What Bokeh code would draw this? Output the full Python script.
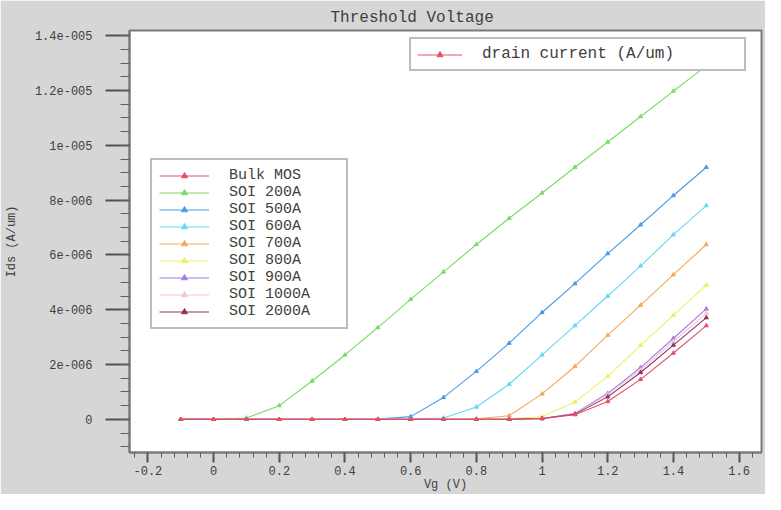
from bokeh.plotting import figure
from bokeh.models import (FixedTicker, CustomJSTickFormatter, Legend, LegendItem, Range1d)
from bokeh.embed import file_html
from bokeh.resources import INLINE

# ---- data ----
vg = [-0.1, 0.0, 0.1, 0.2, 0.3, 0.4, 0.5, 0.6, 0.7, 0.8, 0.9, 1.0, 1.1, 1.2, 1.3, 1.4, 1.5]

bulk_mos = [0, 0, 0, 0, 0, 0, 0, 0, 0, 0, 0.004e-6, 0.025e-6, 0.17e-6, 0.65e-6, 1.46e-6, 2.42e-6, 3.42e-6]
soi_200a = [0, 0, 0.05e-6, 0.5e-6, 1.4e-6, 2.35e-6, 3.35e-6, 4.38e-6, 5.38e-6, 6.38e-6, 7.34e-6, 8.26e-6, 9.2e-6, 10.12e-6, 11.05e-6, 11.98e-6, 12.9e-6]
soi_500a = [0, 0, 0, 0, 0, 0, 0.01e-6, 0.1e-6, 0.8e-6, 1.75e-6, 2.78e-6, 3.9e-6, 4.95e-6, 6.05e-6, 7.1e-6, 8.17e-6, 9.2e-6]
soi_600a = [0, 0, 0, 0, 0, 0, 0, 0.01e-6, 0.05e-6, 0.45e-6, 1.28e-6, 2.35e-6, 3.42e-6, 4.5e-6, 5.6e-6, 6.74e-6, 7.8e-6]
soi_700a = [0, 0, 0, 0, 0, 0, 0, 0, 0, 0.02e-6, 0.13e-6, 0.93e-6, 1.93e-6, 3.07e-6, 4.17e-6, 5.28e-6, 6.38e-6]
soi_800a = [0, 0, 0, 0, 0, 0, 0, 0, 0, 0, 0.02e-6, 0.1e-6, 0.63e-6, 1.57e-6, 2.7e-6, 3.8e-6, 4.9e-6]
soi_900a = [0, 0, 0, 0, 0, 0, 0, 0, 0, 0, 0.005e-6, 0.03e-6, 0.21e-6, 0.95e-6, 1.89e-6, 2.96e-6, 4.03e-6]
soi_1000a = [0, 0, 0, 0, 0, 0, 0, 0, 0, 0, 0.005e-6, 0.03e-6, 0.2e-6, 0.9e-6, 1.8e-6, 2.85e-6, 3.87e-6]
soi_2000a = [0, 0, 0, 0, 0, 0, 0, 0, 0, 0, 0.005e-6, 0.03e-6, 0.19e-6, 0.82e-6, 1.71e-6, 2.71e-6, 3.71e-6]

series_names = ["Bulk MOS", "SOI 200A", "SOI 500A", "SOI 600A", "SOI 700A",
                "SOI 800A", "SOI 900A", "SOI 1000A", "SOI 2000A"]
series_values = [bulk_mos, soi_200a, soi_500a, soi_600a, soi_700a,
                 soi_800a, soi_900a, soi_1000a, soi_2000a]
series_colors = ["#e4506a", "#78dc64", "#4c9ae4", "#64d8f2", "#f2aa58",
                 "#eef064", "#a67ce4", "#f2c8d2", "#8e3462"]

top_legend_label = "drain current (A/um)"
title_text = "Threshold Voltage"
x_label = "Vg (V)"
y_label = "Ids (A/um)"

x_ticks = [-0.2, 0.0, 0.2, 0.4, 0.6, 0.8, 1.0, 1.2, 1.4, 1.6]
x_tick_labels = ["-0.2", "0", "0.2", "0.4", "0.6", "0.8", "1", "1.2", "1.4", "1.6"]
y_ticks = [0.0, 2e-6, 4e-6, 6e-6, 8e-6, 1e-5, 1.2e-5, 1.4e-5]
y_tick_labels = ["0", "2e-006", "4e-006", "6e-006", "8e-006", "1e-005", "1.2e-005", "1.4e-005"]

# ---- figure ----
MONO = "Liberation Mono"
TXT = "#404040"

p = figure(width=765, height=494, output_backend="svg", toolbar_location=None,
           x_range=Range1d(-0.256, 1.668), y_range=Range1d(-1.21e-6, 1.419e-5),
           min_border_left=129, min_border_right=4, min_border_top=30, min_border_bottom=42)
p.border_fill_color = "#d6d6d6"
p.background_fill_color = "white"
p.outline_line_color = "#7a7a7a"
p.outline_line_width = 2
p.grid.visible = False

p.title.text = title_text
p.title.align = "left"
p.title.offset = 201
p.title.text_font = MONO
p.title.text_font_size = "16px"
p.title.text_font_style = "normal"
p.title.text_color = TXT
p.title.standoff = 8

fmt_code = """
let best = 0, bd = Infinity;
for (let i = 0; i < tv.length; i++) { const d = Math.abs(tv[i] - tick); if (d < bd) { bd = d; best = i; } }
return tl[best];
"""
x_minor = [round(-0.24 + 0.04 * i, 4) for i in range(48)]
y_minor = [round(-1e-6 + 5e-7 * i, 12) for i in range(31)]

p.xaxis.ticker = FixedTicker(ticks=x_ticks, minor_ticks=x_minor)
p.xaxis.formatter = CustomJSTickFormatter(args=dict(tv=x_ticks, tl=x_tick_labels), code=fmt_code)
p.yaxis.ticker = FixedTicker(ticks=y_ticks, minor_ticks=y_minor)
p.yaxis.formatter = CustomJSTickFormatter(args=dict(tv=y_ticks, tl=y_tick_labels), code=fmt_code)

for ax in (p.xaxis, p.yaxis):
    ax.axis_line_color = "#7a7a7a"
    ax.axis_line_width = 2
    ax.major_tick_line_color = "#505050"
    ax.major_tick_line_width = 2
    ax.minor_tick_line_color = "#606060"
    ax.minor_tick_line_width = 1
    ax.major_tick_in = 0
    ax.minor_tick_in = 0
    ax.major_label_text_font = MONO
    ax.major_label_text_font_size = "12px"
    ax.major_label_text_color = TXT
    ax.axis_label_text_font = MONO
    ax.axis_label_text_font_size = "12px"
    ax.axis_label_text_font_style = "normal"
    ax.axis_label_text_color = TXT

p.xaxis.axis_label = x_label
p.xaxis.major_tick_out = 10
p.xaxis.minor_tick_out = 5
p.xaxis.major_label_standoff = 3
p.xaxis.axis_label_standoff = 0

p.yaxis.axis_label = y_label
p.yaxis.major_tick_out = 24
p.yaxis.minor_tick_out = 9
p.yaxis.major_label_standoff = 13
p.yaxis.axis_label_standoff = 13

# ---- series ----
renderers = {}
draw_order = list(range(1, 9)) + [0]
for i in draw_order:
    ln = p.line(vg, series_values[i], line_color=series_colors[i], line_width=1.1)
    sc = p.scatter(vg, series_values[i], marker="triangle", size=4,
                   line_color=series_colors[i], fill_color=series_colors[i])
    renderers[i] = [ln, sc]

items = [LegendItem(label=series_names[i], renderers=renderers[i]) for i in range(9)]
leg = Legend(items=items, location=(21, 123), margin=0, padding=7, spacing=0,
             glyph_width=50, glyph_height=15, label_height=15, label_width=110,
             label_standoff=20,
             label_text_font=MONO, label_text_font_size="15px", label_text_color=TXT,
             border_line_color="#7a7a7a", border_line_width=2,
             background_fill_color="white", background_fill_alpha=1)
p.add_layout(leg, "center")

top_leg = Legend(items=[LegendItem(label=top_legend_label, renderers=renderers[0])],
                 location=(280, 381), margin=0, padding=6,
                 glyph_width=45, glyph_height=15, label_height=15, label_width=256,
                 label_standoff=20,
                 label_text_font=MONO, label_text_font_size="16px", label_text_color=TXT,
                 border_line_color="#7a7a7a", border_line_width=2,
                 background_fill_color="white", background_fill_alpha=1)
p.add_layout(top_leg, "center")

open("out.html", "w").write(file_html(p, INLINE))
